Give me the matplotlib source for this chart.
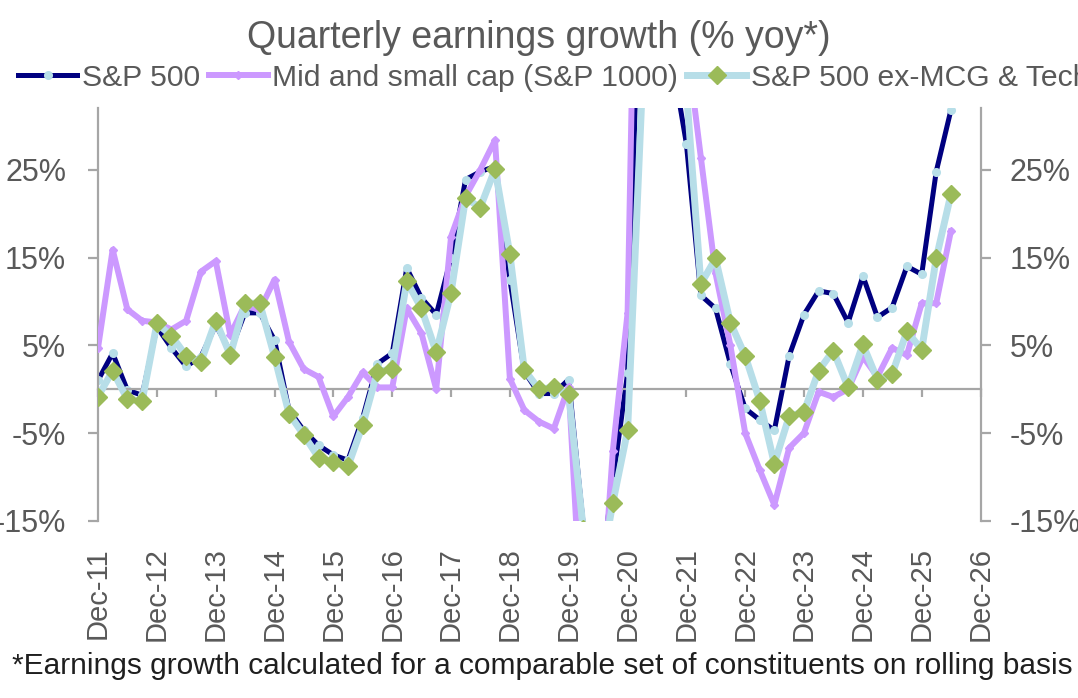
import numpy as np
import pandas as pd
import matplotlib
matplotlib.use("Agg")
import matplotlib.pyplot as plt

plt.rcParams['font.family'] = ['Liberation Sans', 'DejaVu Sans']

# quarterly yoy earnings growth, Dec-11 .. Jun-26 (values past the axis are guesses)
quarters = pd.date_range('2011-12-31', periods=59, freq='QE')

sp500 = [1.0, 4.1, -0.1, -0.7, 7.1, 4.7, 2.6, 3.7, 7.3, 4.3, 8.7, 8.7, 5.6, -2.4, -4.7, -6.4,
         -7.5, -8.1, -3.3, 2.9, 4.1, 13.8, 10.4, 8.5, 15.0, 23.9, 24.8, 25.4, 12.5, 2.0, -0.5, -0.5,
         1.1, -15.5, -23.4, -10.5, 1.8, 60.0, 90.0, 38.0, 28.0, 10.7, 9.2, 2.9, -2.2, -3.5, -4.7, 3.8,
         8.5, 11.2, 10.9, 7.6, 12.9, 8.2, 9.3, 14.0, 13.1, 24.8, 31.8]

mid_small = [4.7, 15.9, 9.1, 7.8, 7.6, 6.8, 7.8, 13.4, 14.6, 6.2, 9.6, 9.0, 12.5, 5.4, 2.3, 1.4,
             -3.1, -0.9, 1.9, 0.2, 0.2, 9.2, 6.4, 0.0, 17.4, 22.0, 25.0, 28.4, 1.2, -2.4, -3.7, -4.5,
             0.3, -30.0, -31.6, -7.1, 8.7, 95.0, 110.0, 60.0, 39.7, 26.4, 13.2, 5.0, -5.0, -9.2, -13.2, -6.7,
             -5.0, -0.3, -0.9, 0.0, 3.7, 1.4, 4.7, 3.9, 9.8, 9.8, 18.0]

ex_mcg_tech = [-0.85, 2.1, -1.15, -1.35, 7.5, 6.1, 3.8, 3.1, 7.8, 3.9, 9.8, 9.8, 3.7, -2.8, -5.2, -7.8,
               -8.3, -8.8, -4.1, 2.0, 2.3, 12.3, 9.2, 4.2, 11.0, 21.8, 20.7, 25.1, 15.4, 2.2, 0.0, 0.2,
               -0.5, -16.0, -22.5, -13.0, -4.7, 34.0, 75.0, 51.0, 34.0, 12.0, 14.9, 7.6, 3.8, -1.3, -8.5, -3.1,
               -2.6, 2.1, 4.4, 0.2, 5.1, 1.1, 1.7, 6.6, 4.5, 14.9, 22.2]

series_names = ['S&P 500', 'Mid and small cap (S&P 1000)', 'S&P 500 ex-MCG & Tech']
year_ticks = pd.date_range('2011-12-31', '2026-12-31', freq='YE')
y_ticks = [-15, -5, 5, 15, 25]

grey_txt = '#595959'
grey_axis = '#A6A6A6'

fig = plt.figure(figsize=(10.78, 6.98), dpi=100)
W, H = 1078, 698
ax = fig.add_axes([98 / W, 1 - 520.7 / H, (980.5 - 98) / W, (520.7 - 108) / H])

l1, = ax.plot(quarters, sp500, color='#000080', lw=3.6, marker='o', ms=5.5,
              mfc='#B7DEE8', mec='#B7DEE8', label=series_names[0], zorder=2)
l2, = ax.plot(quarters, mid_small, color='#CC99FF', lw=4.3, marker='D', ms=4,
              mfc='#CC99FF', mec='#CC99FF', label=series_names[1], zorder=3)
l3, = ax.plot(quarters, ex_mcg_tech, color='#B7DEE8', lw=5, marker='D', ms=9,
              mfc='#9BBB59', mec='#9BBB59', label=series_names[2], zorder=4)

ax.set_xlim(year_ticks[0], year_ticks[-1])
ax.set_ylim(-15, 32.06)
ax.set_yticks(y_ticks)
ax.set_yticklabels([f'{v}%' for v in y_ticks])

# zero line carries the year ticks, labels go at the bottom
ax.spines['top'].set_visible(False)
ax.spines['right'].set_visible(False)
ax.spines['bottom'].set_position(('data', 0))
for s in ['left', 'bottom']:
    ax.spines[s].set_color(grey_axis)
    ax.spines[s].set_linewidth(1.6)
ax.set_xticks(year_ticks)
ax.tick_params(axis='x', direction='out', length=6, width=1.6, color=grey_axis, labelbottom=False)
ax.tick_params(axis='y', direction='out', length=7, width=1.6, color=grey_axis,
               labelcolor=grey_txt, labelsize=22, pad=16)

sec = ax.secondary_xaxis(0.0)
sec.set_xticks(year_ticks)
sec.set_xticklabels([d.strftime('%b-%y') for d in year_ticks])
sec.spines['bottom'].set_visible(False)
sec.tick_params(length=0, pad=19, labelsize=21, labelcolor=grey_txt, labelrotation=90)

ax2 = ax.twinx()
ax2.set_ylim(ax.get_ylim())
ax2.set_yticks(y_ticks)
ax2.set_yticklabels([f'{v}%' for v in y_ticks])
for s in ['top', 'left', 'bottom']:
    ax2.spines[s].set_visible(False)
ax2.spines['right'].set_color(grey_axis)
ax2.spines['right'].set_linewidth(1.6)
ax2.tick_params(axis='y', direction='out', length=7, width=1.6, color=grey_axis,
                labelcolor=grey_txt, labelsize=22, pad=14)

fig.text(0.5, 1 - 38 / H, 'Quarterly earnings growth (% yoy*)', ha='center', va='center',
         fontsize=27, color=grey_txt)

fig.legend(handles=[l1, l2, l3], loc='center left', bbox_to_anchor=(18 / W, 1 - 78 / H),
           ncol=3, frameon=False, fontsize=21.7, labelcolor=grey_txt, handlelength=1.96,
           handletextpad=0.15, columnspacing=0.3, borderaxespad=0, borderpad=0)

fig.text(12 / W, 1 - 666 / H,
         '*Earnings growth calculated for a comparable set of constituents on rolling basis',
         ha='left', va='center', fontsize=21.5, color='#1f1f1f')

fig.savefig('out.png', dpi=100)
